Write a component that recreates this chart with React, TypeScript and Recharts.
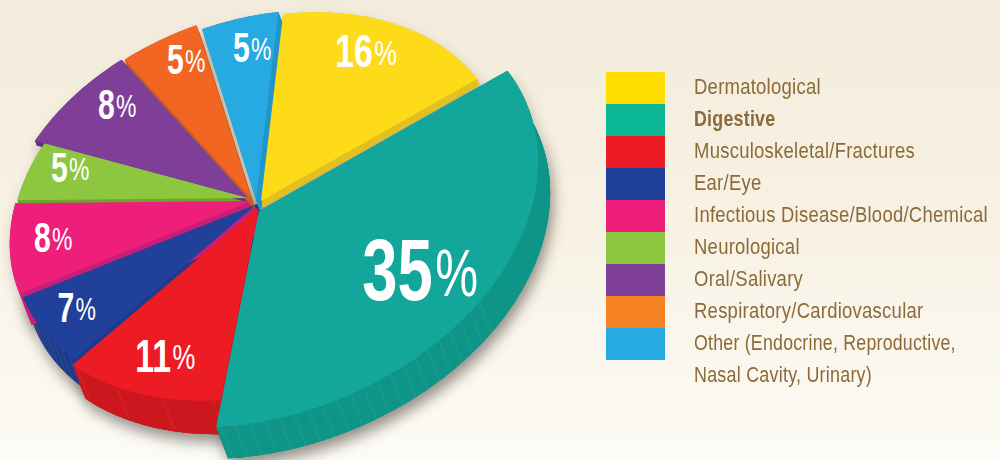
import { PieChart, Pie } from 'recharts';

const categories = [
  'Dermatological',
  'Digestive',
  'Musculoskeletal/Fractures',
  'Ear/Eye',
  'Infectious Disease/Blood/Chemical',
  'Neurological',
  'Oral/Salivary',
  'Respiratory/Cardiovascular',
  'Other (Endocrine, Reproductive,',
];
const shares = [16, 35, 11, 7, 8, 5, 8, 5, 5];

const topColors = ['#fedb18', '#12a79a', '#ed1c24', '#21409a', '#ee1f7b', '#8dc63f', '#7f3f98', '#f26522', '#27aae1'];
const wallColors = ['#e2c01f', '#0f9488', '#cd171e', '#1e3a8a', '#c91e78', '#6fa52f', '#66308a', '#c75f20', '#2295c8'];
const legendColors = ['#ffde00', '#0cb896', '#ed1c24', '#21409a', '#ee1f7b', '#8dc63f', '#7f3f98', '#f58220', '#27aae1'];

// tilt of the disc: local pie coords -> screen px
const TILT = { xx: 2.47, xy: 1.3, yx: -1.42, yy: 1.64 };
const CX = 258;
const CY = 205;
const DEPTH = { x: 12, y: 31 };

const sliceRadius = [0.87, 1, 0.893, 0.874, 0.868, 0.853, 0.885, 0.885, 0.875];
const sliceApex = [
  [261, 201],
  [259, 211],
  [259, 207],
  [257, 204],
  [252, 201],
  [250, 198],
  [248, 198],
  [251, 198],
  [256, 200],
];
// back slices only show a thin strip of wall
const sliceDepth = [0.2, 1, 1.08, 1, 1, 0.12, 0.15, 0.4, 0.4];
const labelRadius = [0.743, 0.73, 0.723, 0.73, 0.734, 0.75, 0.777, 0.79, 0.753];
const labelNudge = [
  [-8, -4],
  [-3, 3],
  [4, -1],
  [-3, -4],
  [0, -9],
  [7, -14],
  [13, -12],
  [10, -5],
  [8, -1],
];
const labelSize = [47, 88, 47, 42, 42, 42, 42, 42, 42];
const ribStep = [0, 3, 12, 3, 0, 0, 0, 0, 0];

const rows = categories.map((name, i) => ({ name, value: shares[i] }));

const RAD = Math.PI / 180;

function tilt(ox: number, oy: number, angle: number, radius: number) {
  const lx = radius * Math.cos(angle * RAD);
  const ly = -radius * Math.sin(angle * RAD);
  return {
    x: ox + TILT.xx * lx + TILT.xy * ly,
    y: oy + TILT.yx * lx + TILT.yy * ly,
  };
}

const project = (i: number, angle: number, radius: number) =>
  tilt(sliceApex[i][0], sliceApex[i][1], angle, radius * sliceRadius[i]);

function arcPoints(i: number, start: number, end: number, radius: number) {
  const pts = [];
  const n = Math.max(2, Math.ceil(Math.abs(start - end)));
  for (let k = 0; k <= n; k++) {
    pts.push(project(i, start + ((end - start) * k) / n, radius));
  }
  return pts;
}

const toPath = (pts: { x: number; y: number }[]) =>
  'M' + pts.map((p) => `${p.x.toFixed(2)},${p.y.toFixed(2)}`).join('L') + 'Z';
const shifted = (pts: { x: number; y: number }[], f: number) =>
  pts.map((p) => ({ x: p.x + DEPTH.x * f, y: p.y + DEPTH.y * f }));
const sliceIndex = (props: any) => categories.indexOf(props.name ?? props.payload?.name);

function TopSlice(props: any) {
  const i = sliceIndex(props);
  const arc = arcPoints(i, props.startAngle, props.endAngle, props.outerRadius);
  const apex = { x: sliceApex[i][0], y: sliceApex[i][1] };
  return <path d={toPath([apex, ...arc])} fill={topColors[i]} />;
}

function wallFaces(props: any) {
  const i = sliceIndex(props);
  const arc = arcPoints(i, props.startAngle, props.endAngle, props.outerRadius);
  const apex = { x: sliceApex[i][0], y: sliceApex[i][1] };
  const low = shifted(arc, sliceDepth[i]);
  const lowApex = shifted([apex], sliceDepth[i])[0];
  return [
    toPath([lowApex, ...low]),
    toPath([...arc, ...[...low].reverse()]),
    toPath([apex, arc[0], low[0], lowApex]),
    toPath([apex, arc[arc.length - 1], low[low.length - 1], lowApex]),
  ];
}

function Ribs(props: any) {
  const i = sliceIndex(props);
  if (ribStep[i] === 0) return null;
  const ribs = [];
  for (let a = props.startAngle - 2; a > props.endAngle; a -= ribStep[i]) {
    const p = project(i, a, props.outerRadius);
    // only the lower rim shows ribs
    if (p.y > 300) {
      ribs.push(
        <line key={a} x1={p.x} y1={p.y} x2={p.x + DEPTH.x} y2={p.y + DEPTH.y} stroke="#ffffff" strokeOpacity={0.1} strokeWidth={0.8} />,
      );
    }
  }
  return <g>{ribs}</g>;
}

function WallSlice(props: any) {
  const i = sliceIndex(props);
  return (
    <g>
      {wallFaces(props).map((d, k) => (
        <path key={k} d={d} fill={wallColors[i]} />
      ))}
      <Ribs {...props} />
    </g>
  );
}

// red and teal rims sit in front of their neighbours' walls
function frontBand(category: string) {
  return function FrontBand(props: any) {
    const i = sliceIndex(props);
    if (categories[i] !== category) return <g />;
    return (
      <g>
        <path d={wallFaces(props)[1]} fill={wallColors[i]} />
        <Ribs {...props} />
      </g>
    );
  };
}
const RedBand = frontBand('Musculoskeletal/Fractures');
const TealBand = frontBand('Digestive');

function ShadowSlice(props: any) {
  return (
    <g transform="translate(3,8)" style={{ filter: 'blur(7px)' }}>
      {wallFaces(props).map((d, k) => (
        <path key={k} d={d} fill="#4a443c" fillOpacity={0.35} />
      ))}
    </g>
  );
}

function SliceLabel(props: any) {
  const i = props.index;
  const p = tilt(CX, CY, props.midAngle, props.outerRadius * labelRadius[i]);
  const size = labelSize[i];
  return (
    <g transform={`translate(${p.x + labelNudge[i][0]},${p.y + labelNudge[i][1]}) scale(0.72,1)`}>
      <text
        textAnchor="middle"
        y={size * 0.35}
        fill="#ffffff"
        fontFamily="'Liberation Sans', sans-serif"
        fontSize={size}
        fontWeight={700}
      >
        {shares[i]}
        <tspan fontWeight={400} fontSize={size * 0.76} dx={size * 0.04} dy={-size * 0.05}>
          %
        </tspan>
      </text>
    </g>
  );
}

function LegendRow({ text, bold, row, squeeze = 0.84 }: { text: string; bold?: boolean; row: number; squeeze?: number }) {
  return (
    <div
      style={{
        position: 'absolute',
        left: 694,
        top: 71 + row * 32,
        height: 32,
        lineHeight: '32px',
        fontFamily: "'Liberation Sans', sans-serif",
        fontSize: 22,
        letterSpacing: 0.3,
        fontWeight: bold ? 700 : 400,
        color: '#8c6a3a',
        whiteSpace: 'nowrap',
        transform: `scaleX(${squeeze})`,
        transformOrigin: 'left center',
      }}
    >
      {text}
    </div>
  );
}

const pieProps = {
  data: rows,
  dataKey: 'value',
  nameKey: 'name',
  cx: CX,
  cy: CY,
  outerRadius: 100,
  startAngle: 57,
  endAngle: -303,
  stroke: 'none',
  isAnimationActive: false,
};

export default function App() {
  return (
    <div
      style={{
        position: 'absolute',
        left: 0,
        top: 0,
        width: 1000,
        height: 460,
        overflow: 'hidden',
        background: 'linear-gradient(#f3ecdc 0%, #f8f2e4 50%, #fdfbf6 100%)',
      }}
    >
      <PieChart width={1000} height={460} margin={{ top: 0, right: 0, bottom: 0, left: 0 }}>
        <Pie {...pieProps} shape={ShadowSlice} />
        <Pie {...pieProps} shape={WallSlice} />
        <Pie {...pieProps} shape={RedBand} />
        <Pie {...pieProps} shape={TealBand} />
        <Pie {...pieProps} shape={TopSlice} label={SliceLabel} labelLine={false} />
      </PieChart>
      {legendColors.map((c, i) => (
        <div key={c} style={{ position: 'absolute', left: 606, top: 72 + i * 32, width: 59, height: 32, background: c }} />
      ))}
      {categories.map((name, i) => (
        <LegendRow key={name} text={name} bold={i === 1} row={i} squeeze={i === 1 ? 0.81 : i === 8 ? 0.806 : 0.84} />
      ))}
      <LegendRow text="Nasal Cavity, Urinary)" row={9} squeeze={0.813} />
    </div>
  );
}
